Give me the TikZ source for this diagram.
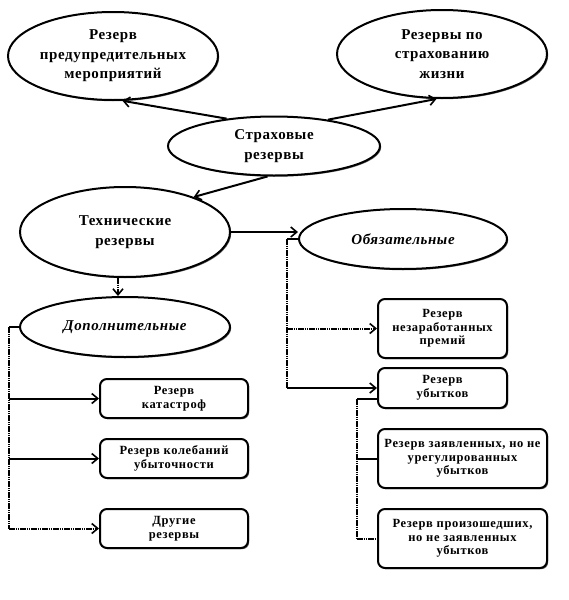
\documentclass[tikz,border=0pt]{standalone}
\usepackage{fontspec}
\setmainfont{Liberation Serif}
\usetikzlibrary{shapes.geometric,arrows.meta,shadows}
\begin{document}
\begin{tikzpicture}[x=1pt,y=-1pt,
 shd/.style={drop shadow={shadow xshift=1.2pt,shadow yshift=-1.2pt,fill=black!60,opacity=1}},
 ell/.style={ellipse,draw,line width=2pt,fill=white,inner sep=0pt,align=center,
   font=\fontsize{15}{19.5}\selectfont\bfseries\addfontfeature{LetterSpace=4},shd},
 box/.style={rectangle,rounded corners=7pt,draw,line width=2pt,fill=white,inner sep=0pt,align=center,
   font=\fontsize{12.5}{13.5}\selectfont\bfseries\addfontfeature{LetterSpace=5},shd},
 ln/.style={line width=2pt},
 dl/.style={line width=2pt,dash pattern=on 1.6pt off 0.6pt},
 arr/.style={-{Straight Barb[length=6pt,width=10pt,line width=1.6pt]}}]
\useasboundingbox[fill=white] (0,0) rectangle (569,600);

\node[ell,minimum width=210pt,minimum height=88pt] (E1) at (113,56) {Резерв\\предупредительных\\мероприятий};
\node[ell,minimum width=210pt,minimum height=88pt] (E2) at (442,54) {Резервы по\\страхованию\\жизни};
\node[ell,minimum width=212pt,minimum height=59pt] (E3) at (274,146) {Страховые\\резервы};
\node[ell,minimum width=210pt,minimum height=90pt] (E4) at (125,232) {Технические\\резервы};
\node[ell,minimum width=208pt,minimum height=60pt] (E5) at (403,239) {\itshape Обязательные};
\node[ell,minimum width=210pt,minimum height=60pt] (E6) at (125,327) {\itshape Дополнительные};

\node[box,minimum width=129pt,minimum height=59pt] (B1) at (442.5,328.5) {Резерв\\незаработанных\\премий};
\node[box,minimum width=129pt,minimum height=40pt] (B2) at (442.5,388) {Резерв\\убытков};
\node[box,minimum width=169pt,minimum height=59pt] (B3) at (462.5,458.5) {Резерв заявленных, но не\\урегулированных\\убытков};
\node[box,minimum width=169pt,minimum height=59pt] (B4) at (462.5,538.5) {Резерв произошедших,\\но не заявленных\\убытков};
\node[box,minimum width=148pt,minimum height=39pt] (B5) at (174,398.5) {Резерв\\катастроф};
\node[box,minimum width=148pt,minimum height=39pt] (B6) at (174,458.5) {Резерв колебаний\\убыточности};
\node[box,minimum width=148pt,minimum height=39pt] (B7) at (174,528.5) {Другие\\резервы};

% top arrows
\draw[ln,arr] (E3.150) -- (E1.-78);
\draw[ln,arr] (E3.26) -- (E2.-97);
\draw[ln,arr] (E3.-102) -- (E4.27);
\draw[ln,arr] (E4.east) -- (E4.east -| E5.west);
\draw[dl,arr] ([xshift=-7pt]E4.south) -- ([xshift=-7pt]E6.north);

% obligatory branch
\draw[ln] (E5.west) -- ++(-11,0) coordinate (v1);
\draw[dl] (v1) -- (v1 |- B2.west);
\draw[dl,arr] (v1 |- B1.west) -- (B1.west);
\draw[ln,arr] (v1 |- B2.west) -- (B2.west);

% additional branch
\draw[ln] (E6.west) -- ++(-10,0) coordinate (v2);
\draw[dl] (v2) -- (v2 |- B7.west);
\draw[ln,arr] (v2 |- B5.west) -- (B5.west);
\draw[ln,arr] (v2 |- B6.west) -- (B6.west);
\draw[dl,arr] (v2 |- B7.west) -- (B7.west);

% losses branch
\draw[ln] ([yshift=-11pt]B2.west) -- ++(-20,0) coordinate (v3);
\draw[dl] (v3) -- (v3 |- B4.west);
\draw[ln] (v3 |- B3.west) -- (B3.west);
\draw[dl] (v3 |- B4.west) -- (B4.west);
\end{tikzpicture}
\end{document}
